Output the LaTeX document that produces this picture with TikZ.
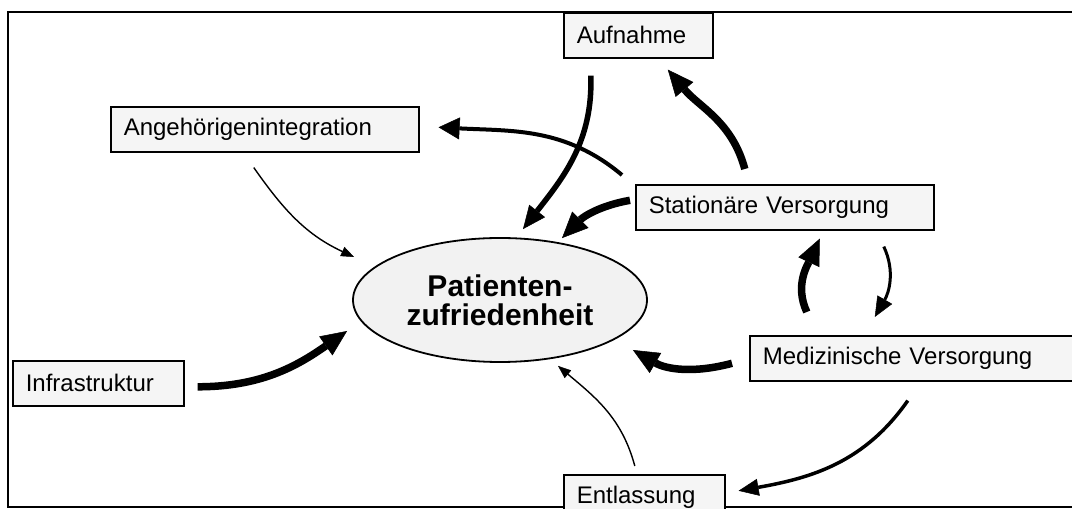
\documentclass[tikz,border=0pt]{standalone}
\usepackage{fontspec}
\setmainfont{Liberation Sans}
\usetikzlibrary{shapes.geometric,arrows.meta}

\begin{document}
\begin{tikzpicture}[
  x=1pt, y=1pt,
  factor/.style={draw=black, line width=1.6pt, fill=gray!8, anchor=north west,
                 minimum height=45pt, inner xsep=13pt, align=left,
                 font=\fontsize{24}{28}\selectfont},
  goal/.style={ellipse, draw=black, line width=1.8pt, fill=gray!10,
               minimum width=294pt, minimum height=124pt, align=center,
               font=\bfseries\fontsize{30}{29}\selectfont},
  strong/.style={line width=7.5pt, -{Triangle[length=26pt, width=23pt, line width=0.5pt]}},
  medium/.style={line width=3.5pt, -{Triangle[length=20pt, width=17pt, line width=0.5pt]}},
  weak/.style={line width=1.4pt, -{Triangle[length=13pt, width=10pt, line width=0.5pt]}}
]
\clip (0,0) rectangle (1072,509);
\fill[white] (0,0) rectangle (1072,509);

% Frame
\draw[line width=2pt] (8,2) rectangle (1090,497);

% Factors
\node[factor, text width=123pt] (auf) at (563,497) {Aufnahme};
\node[factor, text width=282pt] (ang) at (110,403) {Angehörigenintegration};
\node[factor, text width=272pt] (sta) at (635,325) {Stationäre Versorgung};
\node[factor, text width=145pt] (inf) at (12,149)  {Infrastruktur};
\node[factor, text width=314pt] (med) at (749,174) {Medizinische Versorgung};
\node[factor, text width=135pt] (ent) at (563,35)  {Entlassung};

% Goal
\node[goal] (pat) at (500,209) {Patienten-\\zufriedenheit};

% Arrows
\draw[strong, line width=5.5pt, -{Triangle[length=23pt, width=20pt, line width=0.5pt]}]
  ([xshift=-47.5pt,yshift=-17pt]auf.south) to[out=-88, in=52]
  ([xshift=23pt,yshift=8pt]pat.north);
\draw[medium, -{Triangle[length=21pt, width=22pt, line width=0.5pt]}, line width=4pt]
  ([xshift=-13pt,yshift=9pt]sta.north west) to[out=140, in=-3]
  ([xshift=19pt,yshift=2pt]ang.east);
\draw[strong] ([xshift=-40pt,yshift=15pt]sta.north) to[out=105, in=-50]
  ([xshift=29.5pt,yshift=-11pt]auf.south);
\draw[strong] ([xshift=-5pt,yshift=7pt]sta.west) to[out=190, in=45]
  ([xshift=62pt,yshift=-1pt]pat.north);
\draw[weak] ([xshift=-11pt,yshift=-15pt]ang.south) to[out=-55, in=155]
  ([xshift=2pt,yshift=43pt]pat.west);
\draw[strong] ([xshift=13pt,yshift=-3.5pt]inf.east) to[out=0, in=-145]
  ([xshift=-5pt,yshift=-31pt]pat.west);
\draw[strong] ([xshift=-113pt,yshift=23pt]med.north) to[out=115, in=-115]
  ([xshift=35pt,yshift=-8pt]sta.south);
\draw[medium, line width=3pt] ([xshift=99pt,yshift=-16pt]sta.south) to[out=-65, in=60]
  ([xshift=-45pt,yshift=18pt]med.north);
\draw[strong] ([xshift=-17pt,yshift=-5pt]med.west) to[out=195, in=-30]
  ([xshift=-15pt,yshift=-50pt]pat.east);
\draw[medium] ([xshift=-12pt,yshift=-19pt]med.south) to[out=-125, in=10]
  ([xshift=13pt,yshift=6.5pt]ent.east);
\draw[weak] ([xshift=-9.5pt,yshift=8pt]ent.north) to[out=105, in=-40]
  ([xshift=58pt,yshift=-3pt]pat.south);

\end{tikzpicture}
\end{document}
